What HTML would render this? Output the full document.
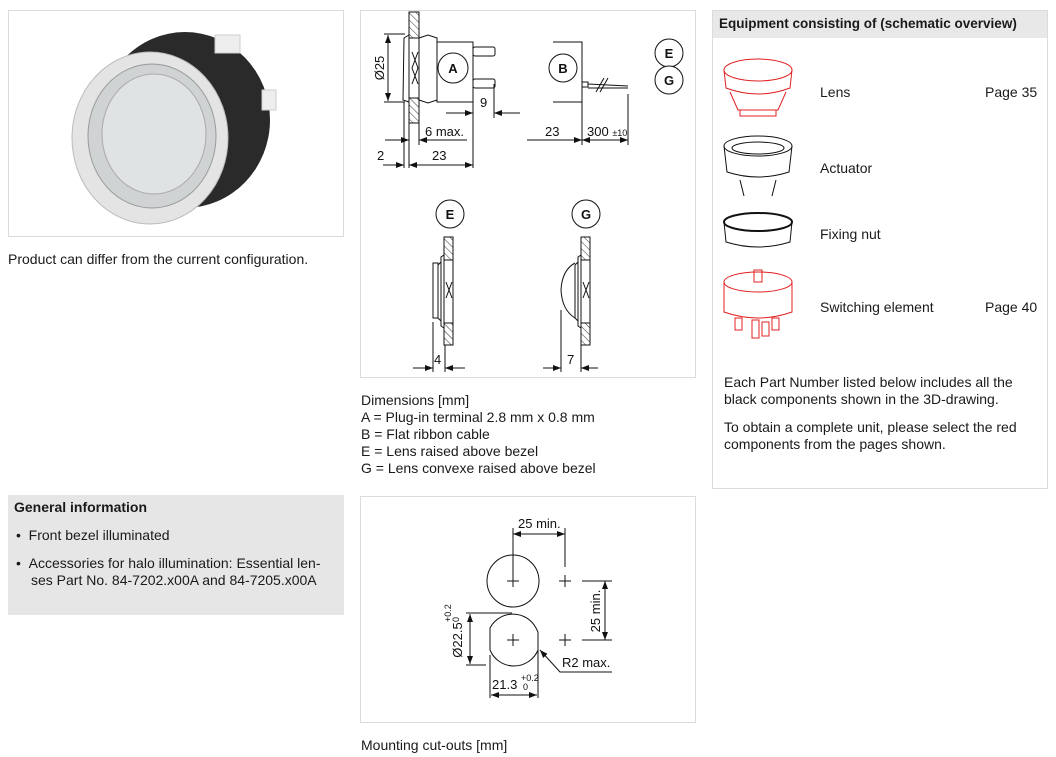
<!DOCTYPE html>
<html><head><meta charset="utf-8"><style>
body{margin:0;width:1056px;height:757px;background:#fff;font-family:"Liberation Sans",sans-serif;color:#1a1a1a;position:relative;overflow:hidden}
.t{position:absolute;font-size:14px;line-height:17px;white-space:nowrap}
.box{position:absolute;border:1px solid #dcdcdc;box-sizing:border-box}
</style></head><body>
<div class="box" style="left:8px;top:10px;width:336px;height:227px"></div>
<div class="box" style="left:360px;top:10px;width:336px;height:368px"></div>
<div class="box" style="left:712px;top:10px;width:336px;height:479px"></div>
<div style="position:absolute;left:713px;top:11px;width:334px;height:27px;background:#e8e8e8"></div>
<div class="t" style="left:719px;top:15px;font-weight:bold;font-size:13.5px">Equipment consisting of (schematic overview)</div>
<div class="box" style="left:360px;top:496px;width:336px;height:227px"></div>
<div style="position:absolute;left:8px;top:495px;width:336px;height:120px;background:#e6e6e6"></div>
<div class="t" style="left:14px;top:499px;font-weight:bold">General information</div>
<div class="t" style="left:16px;top:527px">•&nbsp;&nbsp;Front bezel illuminated</div>
<div class="t" style="left:16px;top:555px">•&nbsp;&nbsp;Accessories for halo illumination: Essential len-</div>
<div class="t" style="left:31px;top:572px">ses Part No. 84-7202.x00A and 84-7205.x00A</div>
<div class="t" style="left:8px;top:251px">Product can differ from the current configuration.</div>
<div class="t" style="left:361px;top:392px">Dimensions [mm]<br>A = Plug-in terminal 2.8 mm x 0.8 mm<br>B = Flat ribbon cable<br>E = Lens raised above bezel<br>G = Lens convexe raised above bezel</div>
<div class="t" style="left:361px;top:737px">Mounting cut-outs [mm]</div>
<div class="t" style="left:820px;top:84px">Lens</div><div class="t" style="left:985px;top:84px">Page 35</div>
<div class="t" style="left:820px;top:160px">Actuator</div>
<div class="t" style="left:820px;top:226px">Fixing nut</div>
<div class="t" style="left:820px;top:299px">Switching element</div><div class="t" style="left:985px;top:299px">Page 40</div>
<div class="t" style="left:724px;top:374px">Each Part Number listed below includes all the<br>black components shown in the 3D-drawing.</div>
<div class="t" style="left:724px;top:419px">To obtain a complete unit, please select the red<br>components from the pages shown.</div>

<svg width="1056" height="757" style="position:absolute;left:0;top:0" font-family="Liberation Sans, sans-serif" font-size="13" fill="none" stroke="#111" stroke-width="1">
<defs><pattern id="h" width="5" height="5" patternUnits="userSpaceOnUse" patternTransform="rotate(-45)"><line x1="0" y1="0" x2="0" y2="5" stroke="#333" stroke-width="1"/></pattern>
<marker id="a" markerWidth="8" markerHeight="6" refX="8" refY="3" orient="auto-start-reverse"><path d="M0,0L8,3L0,6z" fill="#111" stroke="none"/></marker></defs>
<!-- product photo -->
<g>
<ellipse cx="185" cy="120" rx="85" ry="88" fill="#2a2a2a" stroke="none"/>
<ellipse cx="150" cy="138" rx="78" ry="86" fill="#e4e4e4" stroke="#bbb"/>
<ellipse cx="152" cy="136" rx="64" ry="72" fill="#cfd3d3" stroke="#999"/>
<ellipse cx="154" cy="134" rx="52" ry="60" fill="#dfe3e3" stroke="#aaa"/>
<rect x="215" y="35" width="25" height="18" fill="#eee" stroke="#ccc"/>
<rect x="262" y="90" width="14" height="20" fill="#eee" stroke="#ccc"/>
</g>
<!-- drawing A -->
<rect x="409" y="12" width="10" height="111" fill="url(#h)" stroke="#111"/>
<rect x="409" y="38" width="10" height="60" fill="#fff" stroke="#111"/>
<path d="M412,52L418,68L412,84M418,52L412,68L418,84"/>
<path d="M409,35L404,38L403,100L409,102"/>
<path d="M419,38L428,35L437,38L437,100L428,103L419,100"/>
<rect x="437" y="42" width="36" height="60"/>
<circle cx="453" cy="68" r="15" fill="#fff"/><text x="453" y="73" text-anchor="middle" fill="#111" stroke="none" font-weight="bold">A</text>
<rect x="473" y="47" width="22" height="9" rx="2"/><rect x="473" y="79" width="22" height="9" rx="2"/>
<line x1="388" y1="35" x2="388" y2="101" marker-start="url(#a)" marker-end="url(#a)"/>
<line x1="384" y1="34" x2="405" y2="34"/><line x1="384" y1="102" x2="405" y2="102"/>
<text transform="translate(384,68) rotate(-90)" text-anchor="middle" fill="#111" stroke="none">Ø25</text>
<line x1="404" y1="102" x2="404" y2="168"/><line x1="409" y1="123" x2="409" y2="168"/><line x1="419" y1="123" x2="419" y2="145"/>
<line x1="473" y1="102" x2="473" y2="168"/><line x1="494" y1="84" x2="494" y2="118"/>
<line x1="446" y1="113" x2="473" y2="113" marker-end="url(#a)"/><line x1="520" y1="113" x2="494" y2="113" marker-end="url(#a)"/>
<text x="480" y="107" fill="#111" stroke="none">9</text>
<line x1="385" y1="140" x2="409" y2="140" marker-end="url(#a)"/><line x1="467" y1="140" x2="419" y2="140" marker-end="url(#a)"/>
<text x="425" y="136" fill="#111" stroke="none">6 max.</text>
<line x1="383" y1="165" x2="404" y2="165" marker-end="url(#a)"/><line x1="409" y1="165" x2="473" y2="165" marker-start="url(#a)" marker-end="url(#a)"/>
<text x="377" y="160" fill="#111" stroke="none">2</text><text x="432" y="160" fill="#111" stroke="none">23</text>
<!-- B -->
<path d="M553,42L582,42L582,102L553,102"/>
<circle cx="563" cy="68" r="14" fill="#fff"/><text x="563" y="73" text-anchor="middle" fill="#111" stroke="none" font-weight="bold">B</text>
<rect x="582" y="82" width="6" height="5"/><path d="M588,84L628,86M588,88L628,88"/><path d="M596,92L604,78M600,92L608,78"/>
<line x1="582" y1="102" x2="582" y2="145"/><line x1="628" y1="94" x2="628" y2="145"/>
<line x1="527" y1="140" x2="582" y2="140" marker-end="url(#a)"/><line x1="582" y1="140" x2="628" y2="140" marker-start="url(#a)" marker-end="url(#a)"/>
<text x="545" y="136" fill="#111" stroke="none">23</text><text x="587" y="136" fill="#111" stroke="none">300 <tspan font-size="9">±10</tspan></text>
<circle cx="669" cy="53" r="14" fill="#fff"/><text x="669" y="58" text-anchor="middle" fill="#111" stroke="none" font-weight="bold">E</text>
<circle cx="669" cy="80" r="14" fill="#fff"/><text x="669" y="85" text-anchor="middle" fill="#111" stroke="none" font-weight="bold">G</text>
<!-- E -->
<circle cx="450" cy="214" r="14"/><text x="450" y="219" text-anchor="middle" fill="#111" stroke="none" font-weight="bold">E</text>
<rect x="444" y="237" width="9" height="108" fill="url(#h)" stroke="#111"/>
<rect x="444" y="260" width="9" height="63" fill="#fff"/>
<path d="M446,282L452,298M452,282L446,298"/>
<path d="M444,255L441,257L441,326L444,328"/><path d="M441,262L438,265L438,318L441,321"/><rect x="433" y="263" width="5" height="55"/>
<line x1="433" y1="322" x2="433" y2="372"/><line x1="445" y1="345" x2="445" y2="372"/>
<line x1="413" y1="368" x2="433" y2="368" marker-end="url(#a)"/><line x1="465" y1="368" x2="445" y2="368" marker-end="url(#a)"/>
<text x="434" y="364" fill="#111" stroke="none">4</text>
<!-- G -->
<circle cx="586" cy="214" r="14"/><text x="586" y="219" text-anchor="middle" fill="#111" stroke="none" font-weight="bold">G</text>
<rect x="581" y="237" width="9" height="108" fill="url(#h)" stroke="#111"/>
<rect x="581" y="260" width="9" height="63" fill="#fff"/>
<path d="M583,282L589,298M589,282L583,298"/>
<path d="M581,255L578,257L578,326L581,328"/><path d="M578,262L575,265L575,318L578,321"/>
<path d="M575,263Q562,270 561,290Q562,310 575,318"/>
<line x1="561" y1="310" x2="561" y2="372"/><line x1="581" y1="345" x2="581" y2="372"/>
<line x1="543" y1="368" x2="561" y2="368" marker-end="url(#a)"/><line x1="598" y1="368" x2="581" y2="368" marker-end="url(#a)"/>
<text x="567" y="364" fill="#111" stroke="none">7</text>
<!-- mounting -->
<circle cx="513" cy="581" r="26"/>
<path d="M490,628A26,26 0 0 1 536,628L538,632L538,650A26,26 0 0 1 490,650Z"/>
<path d="M507,581h12M513,575v12M507,640h12M513,634v12M559,581h12M565,575v12M559,640h12M565,634v12"/>
<line x1="513" y1="528" x2="513" y2="578"/><line x1="565" y1="528" x2="565" y2="567"/>
<line x1="513" y1="534" x2="565" y2="534" marker-start="url(#a)" marker-end="url(#a)"/>
<text x="518" y="528" fill="#111" stroke="none">25 min.</text>
<line x1="582" y1="581" x2="612" y2="581"/><line x1="582" y1="640" x2="612" y2="640"/>
<line x1="605" y1="581" x2="605" y2="640" marker-start="url(#a)" marker-end="url(#a)"/>
<text transform="translate(600,611) rotate(-90)" text-anchor="middle" fill="#111" stroke="none">25 min.</text>
<line x1="466" y1="613" x2="512" y2="613"/><line x1="466" y1="665" x2="486" y2="665"/>
<line x1="470" y1="614" x2="470" y2="664" marker-start="url(#a)" marker-end="url(#a)"/>
<text transform="translate(462,640) rotate(-90)" text-anchor="middle" fill="#111" stroke="none">Ø22.5</text>
<text transform="translate(451,622) rotate(-90)" fill="#111" stroke="none" font-size="9">+0.2</text>
<text transform="translate(459,622) rotate(-90)" fill="#111" stroke="none" font-size="9">0</text>
<line x1="490" y1="655" x2="490" y2="698"/><line x1="538" y1="650" x2="538" y2="698"/>
<line x1="491" y1="695" x2="537" y2="695" marker-start="url(#a)" marker-end="url(#a)"/>
<text x="492" y="689" fill="#111" stroke="none">21.3</text><text x="521" y="681" fill="#111" stroke="none" font-size="9">+0.2</text><text x="523" y="690" fill="#111" stroke="none" font-size="9">0</text>
<path d="M540,650L560,672L612,672" marker-start="url(#a)"/>
<text x="562" y="667" fill="#111" stroke="none">R2 max.</text>
<!-- equipment icons -->
<g stroke="#e02020"><ellipse cx="758" cy="70" rx="34" ry="11"/><path d="M724,70L726,88Q758,100 790,88L792,70"/><path d="M730,92L738,110L778,110L786,92"/><path d="M740,110v6h36v-6"/></g>
<g><ellipse cx="758" cy="146" rx="34" ry="10"/><ellipse cx="758" cy="148" rx="26" ry="6"/><path d="M724,146L727,172Q758,182 789,172L792,146"/><path d="M740,180L744,196M776,180L772,196"/></g>
<g><ellipse cx="758" cy="222" rx="34" ry="9" stroke-width="2"/><path d="M724,222L726,242Q758,252 790,242L792,222"/></g>
<g stroke="#e02020"><ellipse cx="758" cy="282" rx="34" ry="10"/><rect x="754" y="270" width="8" height="12"/><path d="M724,282L724,312Q758,324 792,312L792,282"/><rect x="735" y="318" width="7" height="12"/><rect x="752" y="320" width="7" height="18"/><rect x="772" y="318" width="7" height="12"/><rect x="762" y="322" width="7" height="14"/></g>
</svg>
</body></html>
